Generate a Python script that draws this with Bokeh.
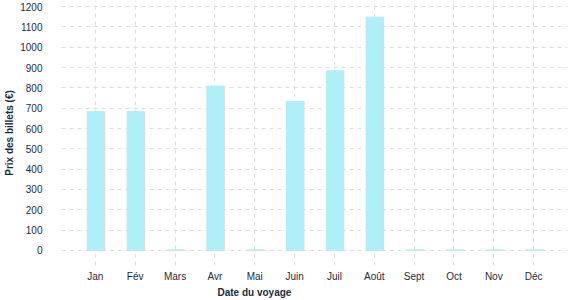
from bokeh.plotting import figure
from bokeh.models import FactorRange, Range1d, SingleIntervalTicker, Title, ColumnDataSource, CustomJSTickFormatter
from bokeh.transform import dodge
from bokeh.embed import file_html
from bokeh.resources import INLINE

months = ["Jan", "Fév", "Mars", "Avr", "Mai", "Juin", "Juil", "Août", "Sept", "Oct", "Nov", "Déc"]
prices = [685, 685, 5, 810, 5, 735, 885, 1150, 5, 5, 5, 5]

TEXT = "#1e2a44"
FONT = "Liberation Sans"

src = ColumnDataSource(dict(month=months, price=prices))

p = figure(width=577, height=300, output_backend="svg", toolbar_location=None,
           x_range=FactorRange(factors=months, range_padding=0.7 / 12),
           y_range=Range1d(-74, 1230),
           min_border_left=61, min_border_right=10, min_border_top=0, min_border_bottom=35)
p.outline_line_color = None

# shadow + bars
p.vbar(x=dodge("month", 0.035, range=p.x_range), top="price", width=0.43, bottom=0,
       source=src, fill_color="#dcdcdc", line_color=None)
p.vbar(x="month", top="price", width=0.43, bottom=0, source=src,
       fill_color="#aeeff9", line_color=None)

p.yaxis.ticker = SingleIntervalTicker(interval=100)

for ax in (p.xaxis[0], p.yaxis[0]):
    ax.axis_line_color = None
    ax.major_tick_line_color = None
    ax.minor_tick_line_color = None
    ax.major_tick_out = 0
    ax.major_tick_in = 0
    ax.minor_tick_out = 0
    ax.major_label_text_color = TEXT
    ax.major_label_text_font = FONT
    ax.major_label_text_font_size = "10px"
    ax.axis_label_text_color = TEXT
    ax.axis_label_text_font = FONT
    ax.axis_label_text_font_size = "10px"
    ax.axis_label_text_font_style = "bold"

p.yaxis.major_label_standoff = 19
p.yaxis.axis_label = "Prix des billets (€)"
p.yaxis.axis_label_standoff = 2
p.xaxis.major_label_standoff = 5

p.yaxis.formatter = CustomJSTickFormatter(code="return tick < 0 ? '' : tick.toString();")

p.xgrid.grid_line_color = "#dddddd"
p.xgrid.grid_line_dash = "4 4"
p.ygrid.grid_line_color = "#dddddd"
p.ygrid.grid_line_dash = "4 4"

xt = Title(text="Date du voyage", align="left", offset=156, standoff=0,
           text_font=FONT, text_font_size="10px", text_font_style="bold",
           text_color=TEXT)
p.add_layout(xt, "below")

open("out.html", "w").write(file_html(p, INLINE))
